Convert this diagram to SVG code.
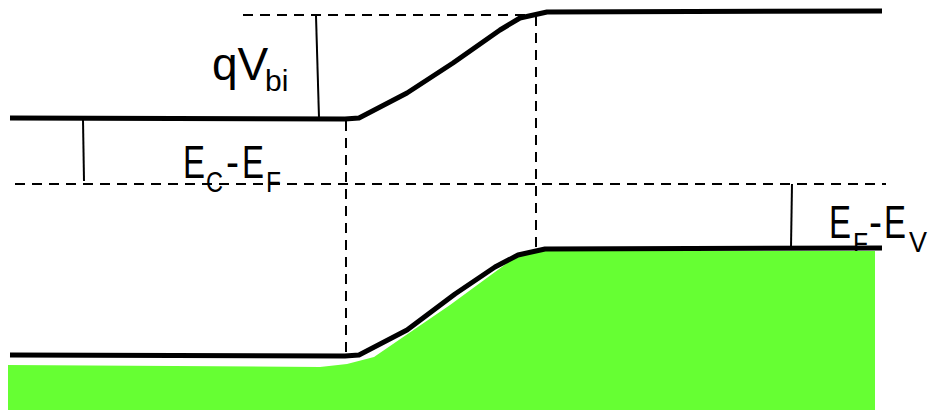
<svg xmlns="http://www.w3.org/2000/svg" width="933" height="412" viewBox="0 0 933 412">
<style>
.band{fill:none;stroke:#000;stroke-width:5;stroke-linejoin:round}
.dash{fill:none;stroke:#000;stroke-width:2;stroke-dasharray:10 7}
.tick{fill:none;stroke:#000;stroke-width:2}
.lbl{font-family:"Liberation Sans","Open Sans",sans-serif;fill:#000;font-size:46px}
.sub{font-size:30px}
</style>
<rect width="933" height="412" fill="#fff"/>
<g id="labels">
<text class="lbl"><tspan x="212" y="80">qV</tspan><tspan class="sub" x="265" y="91">bi</tspan></text>
<text class="lbl"><tspan x="183" y="178" textLength="22" lengthAdjust="spacingAndGlyphs">E</tspan><tspan class="sub" x="206" y="192" textLength="17" lengthAdjust="spacingAndGlyphs">C</tspan><tspan x="226" y="178" textLength="13" lengthAdjust="spacingAndGlyphs">-</tspan><tspan x="242" y="178" textLength="22" lengthAdjust="spacingAndGlyphs">E</tspan><tspan class="sub" x="266" y="192" textLength="15" lengthAdjust="spacingAndGlyphs">F</tspan></text>
<text class="lbl"><tspan x="829" y="238" textLength="22" lengthAdjust="spacingAndGlyphs">E</tspan><tspan class="sub" x="853" y="253" textLength="15" lengthAdjust="spacingAndGlyphs">F</tspan><tspan x="869" y="238" textLength="13" lengthAdjust="spacingAndGlyphs">-</tspan><tspan x="884" y="238" textLength="22" lengthAdjust="spacingAndGlyphs">E</tspan><tspan class="sub" x="909" y="252" textLength="18" lengthAdjust="spacingAndGlyphs">V</tspan></text>
</g>
<g id="valence-fill">
<path d="M8,365 L320,367 L347,364 L374,357 L450,305 L518,255 L543,251 L875,251 L875,410 L8,410 Z" fill="#66ff33"/>
</g>
<g id="connectors">
<line class="dash" x1="243" y1="15" x2="540" y2="15"/>
<line class="dash" x1="15" y1="184" x2="886" y2="184"/>
<line class="dash" x1="346" y1="121" x2="346" y2="356"/>
<line class="dash" x1="536" y1="16" x2="536" y2="250"/>
<line class="tick" x1="316" y1="16" x2="319" y2="118"/>
<line class="tick" x1="83" y1="120" x2="84" y2="181"/>
<line class="tick" x1="792" y1="184" x2="791" y2="247"/>
</g>
<g id="conduction-band">
<path class="band" d="M10,118 L345,119 L359,118 L407,93 L453,63 L500,30 L520,18 L547,12 L882,11"/>
</g>
<g id="valence-band">
<path class="band" d="M10,355 L345,356 L359,355 L407,330 L455,294 L495,267 L518,255 L545,249 L882,248"/>
</g>
</svg>
